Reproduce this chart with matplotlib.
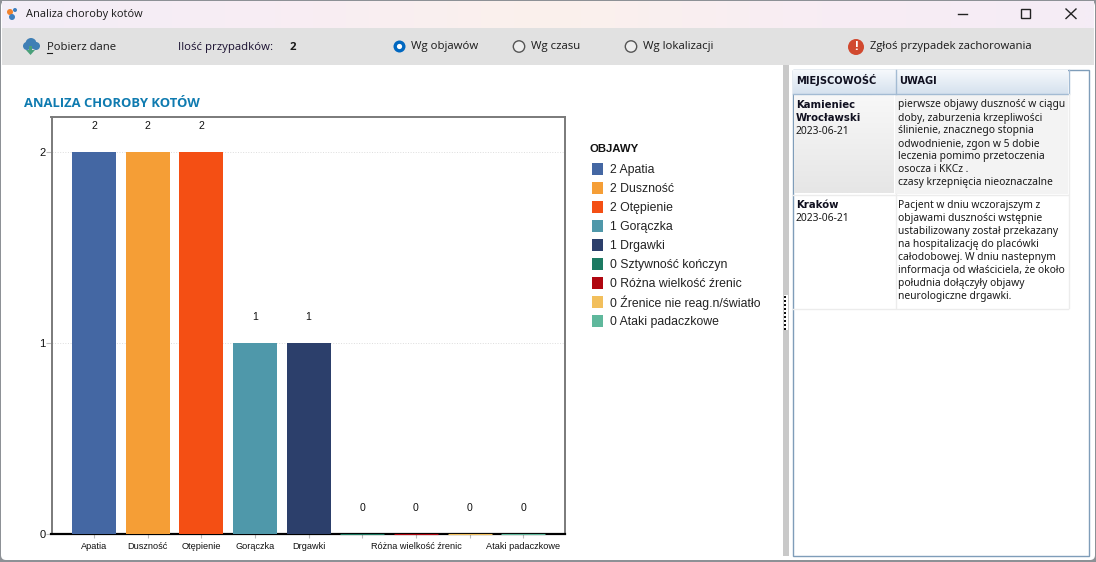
"""
Okno aplikacji "Analiza choroby kotów" z wykresem słupkowym objawów.
"""

import numpy as np
import matplotlib
matplotlib.use("Agg")
import matplotlib.pyplot as plt
from matplotlib.patches import Circle, Rectangle, FancyBboxPatch, Polygon

WIDTH = 1096
HEIGHT = 562

objawy = ["Apatia", "Duszność", "Otępienie", "Gorączka", "Drgawki",
          "Sztywność kończyn", "Różna wielkość źrenic",
          "Źrenice nie reag.n/światło", "Ataki padaczkowe"]
wartosci = [2, 2, 2, 1, 1, 0, 0, 0, 0]
kolory = ["#4467a3", "#f59e36", "#f44f14", "#4f98aa", "#2c3f6b",
          "#1c7a62", "#b00610", "#f2bf5c", "#5fb89c"]
# część opisów na osi jest pomijana tak jak w oryginale
etykiety_osi = ["Apatia", "Duszność", "Otępienie", "Gorączka", "Drgawki",
                "", "Różna wielkość źrenic", "", "Ataki padaczkowe"]
przypadki = [
    (["Kamieniec", "Wrocławski"], "2023-06-21",
     ["pierwsze objawy duszność w ciągu", "doby, zaburzenia krzepliwości",
      "ślinienie, znacznego stopnia", "odwodnienie, zgon w 5 dobie",
      "leczenia pomimo przetoczenia", "osocza i KKCz .",
      "czasy krzepnięcia nieoznaczalne"]),
    (["Kraków"], "2023-06-21",
     ["Pacjent w dniu wczorajszym z", "objawami duszności wstępnie",
      "ustabilizowany został przekazany", "na hospitalizację do placówki",
      "całodobowej. W dniu nastepnym", "informacja od właściciela, że około",
      "południa dołączyły objawy", "neurologiczne drgawki."]),
]

UI_FONT = ["Open Sans", "DejaVu Sans"]
TAB_FONT = ["Noto Sans", "DejaVu Sans"]
TAB_BOLD = ["DejaVu Sans"]
CHART_FONT = ["Liberation Sans", "DejaVu Sans"]


def gradient(ax, x0, y0, x1, y1, colors, horizontal=False, zorder=2.5):
    """Prostokąt z gradientem dwóch lub więcej kolorów."""
    rgb = np.array([matplotlib.colors.to_rgb(c) for c in colors])
    t = np.linspace(0, len(colors) - 1, 64)
    img = np.stack([np.interp(t, range(len(colors)), rgb[:, k]) for k in range(3)], axis=-1)
    img = img[np.newaxis, :, :] if horizontal else img[:, np.newaxis, :]
    ax.imshow(img, extent=(x0, x1, y1, y0), aspect="auto", zorder=zorder, interpolation="bilinear")


def ui_text(ax, x, y, s, size=8.2, color="#1a1a1a", family=None, **kw):
    ax.text(x, y, s, fontsize=size, color=color, family=family or UI_FONT,
            va="center", ha=kw.pop("ha", "left"), zorder=5, **kw)


def draw_window(ax):
    """Pasek tytułu, pasek narzędzi i ikony okna."""
    ax.add_patch(Rectangle((0, 0), WIDTH, HEIGHT, fc="#8d9196", ec="none", zorder=0))
    ax.add_patch(FancyBboxPatch((6, 6), WIDTH - 12, HEIGHT - 13, boxstyle="round,pad=5",
                                fc="white", ec="none", zorder=0.5))
    gradient(ax, 2, 1, WIDTH - 2, 28, ["#f3eef7", "#f8edf4", "#fbf1ec", "#f8edf4", "#f5ecf6"],
             horizontal=True, zorder=1)
    ax.add_patch(Rectangle((2, 28), WIDTH - 4, 37, fc="#e1e1e1", ec="none", zorder=2))

    # ikona aplikacji
    ax.add_patch(Circle((10, 12), 3, fc="#f0822d", ec="none", zorder=3))
    ax.add_patch(Circle((15, 10), 2, fc="#3d7fc0", ec="none", zorder=3))
    ax.add_patch(Circle((12, 17), 3, fc="#3d7fc0", ec="none", zorder=3))
    ui_text(ax, 26, 14.7, "Analiza choroby kotów", size=7.9)

    # przyciski okna
    ax.plot([958, 967], [13.5, 13.5], color="#222222", lw=1, zorder=5)
    ax.add_patch(Rectangle((1021, 9), 9, 9, fc="none", ec="#222222", lw=1, zorder=5))
    ax.plot([1066, 1076], [9, 18.5], color="#222222", lw=1, zorder=5)
    ax.plot([1066, 1076], [18.5, 9], color="#222222", lw=1, zorder=5)

    # pobieranie danych
    for cx, cy, r in [(27, 46, 4), (31, 43.5, 5.5), (36, 46, 4)]:
        ax.add_patch(Circle((cx, cy), r, fc="#3f7fb5", ec="none", zorder=3))
    ax.add_patch(Polygon([[29, 46], [32, 46], [32, 50], [35, 50], [30.5, 55], [26, 50], [29, 50]],
                         fc="#4aa07a", ec="none", zorder=4))
    ui_text(ax, 47, 48, "Pobierz dane", size=8.1)
    ax.plot([47, 52], [53, 53], color="#1a1a1a", lw=0.8, zorder=5)
    ui_text(ax, 178, 47.5, "Ilość przypadków:", color="#1a1030")
    ui_text(ax, 290, 47, "2", fontweight="bold")

    # przełączniki
    ax.add_patch(Circle((399.5, 46.5), 6, fc="#0067c0", ec="none", zorder=4))
    ax.add_patch(Circle((399.5, 46.5), 2.6, fc="white", ec="none", zorder=5))
    ui_text(ax, 411, 46.5, "Wg objawów")
    for cx, tx, label in [(519, 531, "Wg czasu"), (631, 643, "Wg lokalizacji")]:
        ax.add_patch(Circle((cx, 46.5), 5.7, fc="#eeeeee", ec="#555555", lw=1, zorder=4))
        ui_text(ax, tx, 46.5, label)

    # zgłoszenie
    ax.add_patch(Circle((856, 47), 8, fc="#d1492f", ec="none", zorder=4))
    ui_text(ax, 856, 46.5, "!", size=9, color="white", fontweight="bold", ha="center")
    ui_text(ax, 870, 47, "Zgłoś przypadek zachorowania", size=8.15)

    ui_text(ax, 24, 103.5, "ANALIZA CHOROBY KOTÓW", size=9.4, color="#0f7bb0", fontweight="bold")


def draw_table(ax):
    """Tabela z miejscowościami i uwagami po prawej stronie."""
    ax.add_patch(Rectangle((783, 65), 6, HEIGHT - 71, fc="#c9c9c9", ec="none", zorder=2))
    ax.add_patch(Rectangle((784, 295), 3.5, 35, fc="white", ec="none", zorder=3))
    for y in range(296, 330, 4):
        ax.add_patch(Rectangle((784, y), 2, 2, fc="#111111", ec="none", zorder=3.5))
    ax.add_patch(Rectangle((792.5, 69.5), 296.5, 486, fc="white", ec="#7f9db9", lw=1, zorder=2))

    gradient(ax, 793, 70, 1068, 94, ["#f6f9fc", "#d5e1ee"])
    ax.plot([793, 1068], [93.5, 93.5], color="#a3bbd3", lw=1, zorder=3)
    ax.plot([895.5, 895.5], [70, 94], color="#a3bbd3", lw=1, zorder=3)
    ax.plot([1068.5, 1068.5], [70, 94], color="#a3bbd3", lw=1, zorder=3)
    ui_text(ax, 796, 80.5, "MIEJSCOWOŚĆ", size=7.1, family=TAB_BOLD, fontweight="bold", color="#101020")
    ui_text(ax, 899, 80.5, "UWAGI", size=7.1, family=TAB_BOLD, fontweight="bold", color="#101020")

    ax.add_patch(Rectangle((895, 94), 173, 100, fc="#f3f3f3", ec="none", zorder=2))
    gradient(ax, 794, 95, 894, 193, ["#f8f8f8", "#e6e6e6"])
    ax.plot([793, 1068], [194.5, 194.5], color="#ececec", lw=1, zorder=3)
    ax.plot([793, 1068], [308.5, 308.5], color="#ececec", lw=1, zorder=3)
    ax.plot([895.5, 895.5], [194, 308], color="#ececec", lw=1, zorder=3)
    ax.plot([1068.5, 1068.5], [94, 308], color="#ececec", lw=1, zorder=3)

    row_top = [105, 205.5]
    for (miasto, data, uwagi), y0 in zip(przypadki, row_top):
        for i, line in enumerate(miasto):
            ui_text(ax, 796, y0 + i * 13, line, size=7.3, family=TAB_BOLD, fontweight="bold", color="#101020")
        ui_text(ax, 796, y0 + len(miasto) * 13, data, size=7.4, family=TAB_FONT)
        for i, line in enumerate(uwagi):
            ui_text(ax, 898, y0 + i * 13, line, size=7.4, family=TAB_FONT)


def draw_legend(ax):
    """Legenda objawów rysowana wierszami co 19 pikseli."""
    ui_text(ax, 589, 149, "OBJAWY", size=8.2, family=CHART_FONT, fontweight="bold", color="#111111")
    for i, (nazwa, wartosc, kolor) in enumerate(zip(objawy, wartosci, kolory)):
        y = 169 + i * 19
        ax.add_patch(Rectangle((592, y - 5.7), 11.3, 11.5, fc=kolor, ec="none", zorder=4))
        ui_text(ax, 610, y + 0.6, f"{wartosc} {nazwa}", size=8.8, family=CHART_FONT, color="#222222")


def draw_chart(fig):
    """Wykres słupkowy liczby przypadków wg objawów."""
    left, right, top, bottom = 51.5, 565, 117, 534
    ax = fig.add_axes([left / WIDTH, 1 - bottom / HEIGHT, (right - left) / WIDTH, (bottom - top) / HEIGHT])
    ax.set_facecolor("none")
    x = np.arange(len(objawy))
    ax.bar(x, wartosci, width=0.82, color=kolory, edgecolor=kolory, clip_on=False, zorder=3,
           linewidth=[0.8 if v == 0 else 0 for v in wartosci])
    ax.set_xlim(-0.792, 8.779)
    ax.set_ylim(0, 2.183)
    for xi, v in zip(x, wartosci):
        ax.annotate(str(v), (xi, v), xytext=(0, 18.7), textcoords="offset points", ha="center", va="center",
                    fontsize=7.6, family=CHART_FONT, color="#111111")
    ax.set_yticks([0, 1, 2])
    ax.set_xticks(x)
    ax.set_xticklabels(etykiety_osi, family=CHART_FONT, fontsize=6.6, color="#111111")
    ax.set_yticklabels(["0", "1", "2"], family=CHART_FONT, fontsize=8, color="#111111")
    ax.tick_params(axis="x", length=3, width=0.8, color="#bbbbbb", pad=3)
    ax.tick_params(axis="y", length=4, width=0.8, color="#bbbbbb", pad=0.5)
    ax.grid(axis="y", color="#dddddd", lw=0.7, ls=":", zorder=1)
    ax.set_axisbelow(True)
    for side in ["left", "top", "right"]:
        ax.spines[side].set_color("#7a7a7a")
        ax.spines[side].set_linewidth(1.4)
    ax.spines["bottom"].set_color("black")
    ax.spines["bottom"].set_linewidth(1.6)


def main():
    fig = plt.figure(figsize=(WIDTH / 100, HEIGHT / 100), dpi=100)
    ui = fig.add_axes([0, 0, 1, 1])
    ui.set_axis_off()
    draw_window(ui)
    draw_table(ui)
    draw_legend(ui)
    ui.set_xlim(0, WIDTH)
    ui.set_ylim(HEIGHT, 0)
    draw_chart(fig)
    fig.savefig("out.png", dpi=100)


if __name__ == "__main__":
    main()
